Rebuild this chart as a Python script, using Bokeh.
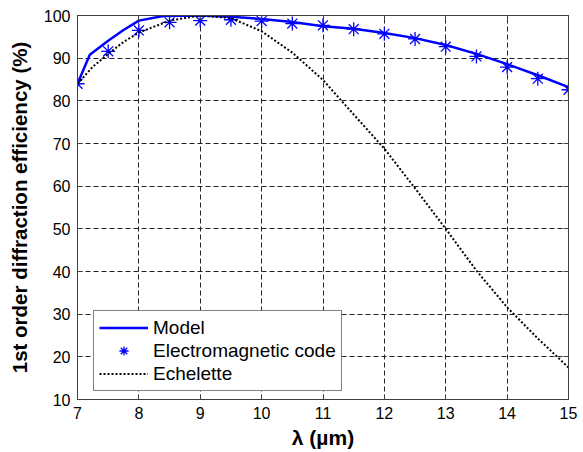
from bokeh.plotting import figure
from bokeh.models import LinearAxis, FixedTicker, Legend, LegendItem
from bokeh.embed import file_html
from bokeh.resources import INLINE

# ---- data ----
model_x = [7.0, 7.2, 7.5, 7.75, 8.0, 8.4, 9.0, 9.5, 10.0, 10.5, 11.0, 11.5, 12.0, 12.5, 13.0, 13.5, 14.0, 14.5, 15.0]
model_y = [84.0, 90.8, 94.1, 96.6, 98.8, 99.9, 100.0, 99.7, 99.2, 98.5, 97.5, 96.9, 95.9, 94.7, 93.1, 91.0, 88.6, 86.0, 83.2]

em_x = [7.0, 7.5, 8.0, 8.5, 9.0, 9.5, 10.0, 10.5, 11.0, 11.5, 12.0, 12.5, 13.0, 13.5, 14.0, 14.5, 15.0]
em_y = [84.0, 91.6, 96.5, 98.4, 98.8, 99.0, 98.7, 98.1, 97.7, 96.8, 95.7, 94.5, 92.7, 90.4, 87.9, 85.2, 82.6]

ech_x = [7.0, 7.25, 7.5, 7.75, 8.0, 8.5, 9.0, 9.5, 10.0, 10.5, 11.0, 11.5, 12.0, 12.5, 13.0, 13.5, 14.0, 14.5, 15.0]
ech_y = [84.0, 88.0, 91.0, 93.8, 96.0, 98.8, 100.0, 99.4, 96.3, 91.3, 84.9, 76.8, 68.8, 59.5, 50.0, 40.2, 31.6, 24.3, 17.5]

x_ticks = [7, 8, 9, 10, 11, 12, 13, 14, 15]
y_ticks = [10, 20, 30, 40, 50, 60, 70, 80, 90, 100]

x_label = "λ (µm)"
y_label = "1st order diffraction efficiency (%)"
series_names = ["Model", "Electromagnetic code", "Echelette"]

FONT = "Liberation Sans"

p = figure(width=583, height=452, x_range=(7, 15), y_range=(10, 100),
           output_backend="svg", toolbar_location=None,
           min_border_left=77, min_border_right=15, min_border_top=15, min_border_bottom=53,
           background_fill_color="white", border_fill_color="white")

p.outline_line_color = "#404040"
p.outline_line_width = 1

for ax in (p.xaxis[0], p.yaxis[0]):
    ax.major_label_text_font = FONT
    ax.major_label_text_font_size = "16px"
    ax.major_label_text_color = "black"
    ax.axis_label_text_font = FONT
    ax.axis_label_text_font_style = "bold"
    ax.axis_label_text_color = "black"
    ax.major_tick_in = 5
    ax.major_tick_out = 0
    ax.minor_tick_line_color = None
    ax.axis_line_color = "#404040"
    ax.major_tick_line_color = "#404040"
    ax.major_label_standoff = 7

p.xaxis[0].ticker = FixedTicker(ticks=x_ticks)
p.yaxis[0].ticker = FixedTicker(ticks=y_ticks)
p.xaxis[0].axis_label = x_label
p.yaxis[0].axis_label = y_label
p.xaxis[0].axis_label_text_font_size = "21px"
p.yaxis[0].axis_label_text_font_size = "20.5px"
p.yaxis[0].axis_label_standoff = 10
p.xaxis[0].axis_label_standoff = 4

# mirror axes (ticks only, no labels)
ra = LinearAxis(ticker=FixedTicker(ticks=y_ticks), major_label_text_font_size="1px",
                major_label_text_color=None,
                major_tick_in=5, major_tick_out=0, minor_tick_line_color=None,
                axis_line_color="#404040", major_tick_line_color="#404040", major_label_standoff=0)
ta = LinearAxis(ticker=FixedTicker(ticks=x_ticks), major_label_text_font_size="1px",
                major_label_text_color=None,
                major_tick_in=5, major_tick_out=0, minor_tick_line_color=None,
                axis_line_color="#404040", major_tick_line_color="#404040", major_label_standoff=0)
p.add_layout(ra, "right")
p.add_layout(ta, "above")

p.xgrid[0].ticker = FixedTicker(ticks=x_ticks)
p.ygrid[0].ticker = FixedTicker(ticks=y_ticks)
for g in (p.xgrid[0], p.ygrid[0]):
    g.grid_line_color = "#222222"
    g.grid_line_dash = "5 3"
    g.grid_line_width = 1

r_model = p.line(model_x, model_y, line_color="#0000ff", line_width=2.5)
r_em = p.scatter(em_x, em_y, marker="asterisk", size=14, line_color="#0000ff", line_width=1.3)
r_ech = p.line(ech_x, ech_y, line_color="black", line_width=2, line_dash="2 2")

legend = Legend(items=[LegendItem(label=series_names[0], renderers=[r_model]),
                       LegendItem(label=series_names[1], renderers=[r_em]),
                       LegendItem(label=series_names[2], renderers=[r_ech])],
                location=(16, 8),
                label_text_font=FONT, label_text_font_size="19px", label_text_color="black",
                glyph_width=49, glyph_height=23, label_height=23, spacing=0, padding=5,
                label_standoff=5, margin=0,
                border_line_color="black", border_line_width=1,
                background_fill_color="white", background_fill_alpha=1)
p.add_layout(legend)

open("out.html", "w").write(file_html(p, INLINE))
